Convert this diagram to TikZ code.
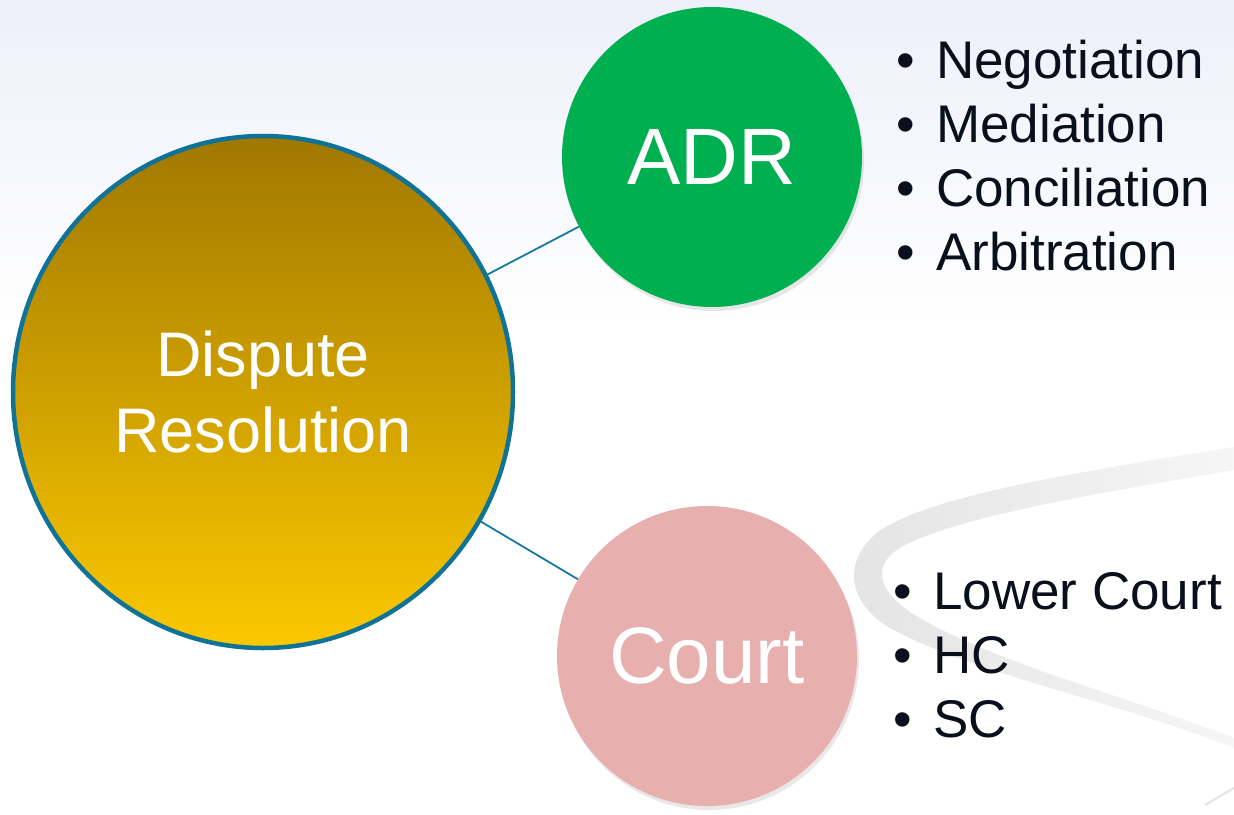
\documentclass[tikz,border=0pt]{standalone}
\usepackage{fontspec}
\setmainfont{Liberation Sans}
\usetikzlibrary{shapes.geometric,shadows}
\definecolor{bgtop}{HTML}{EEF0FA}
\definecolor{goldtop}{HTML}{A07800}
\definecolor{goldbot}{HTML}{FCC800}
\definecolor{rimteal}{HTML}{0E7396}
\definecolor{linkteal}{HTML}{1679A0}
\definecolor{adrgreen}{HTML}{00B050}
\definecolor{courtpink}{HTML}{E8AFAF}
\definecolor{listink}{HTML}{0A0F1C}
\definecolor{swooshgrey}{HTML}{E4E4E4}
\tikzset{
  hub/.style={ellipse, inner sep=0pt, minimum width=500pt, minimum height=512pt,
    draw=rimteal, line width=4.5pt, top color=goldtop, bottom color=goldbot,
    text=white, align=center, font=\fontsize{63}{76}\selectfont},
  branch/.style={ellipse, inner sep=0pt, minimum width=300pt, minimum height=300pt,
    text=white, font=\fontsize{80}{90}\selectfont,
    drop shadow={opacity=0.18, shadow xshift=2pt, shadow yshift=-4pt}},
  link/.style={draw=linkteal, line width=1.8pt},
  item/.style={anchor=base west, inner sep=0pt, text=listink,
    font=\fontsize{53}{64}\selectfont}
}
\newcommand{\bulletitem}[1]{\makebox[40pt][l]{•}#1}
\begin{document}
\begin{tikzpicture}[x=1pt,y=-1pt]
\useasboundingbox (0,0) rectangle (1234,814);
% background
\fill[white] (0,0) rectangle (1234,814);
\shade[top color=bgtop, bottom color=white] (0,0) rectangle (1234,330);
% decorative swoosh
\shade[left color=swooshgrey, right color=swooshgrey!35]
  (1234,447) .. controls (1080,472) and (930,495) .. (878,532)
  .. controls (845,558) and (845,598) .. (885,625)
  .. controls (965,672) and (1120,702) .. (1234,748)
  -- (1234,738)
  .. controls (1120,694) and (985,660) .. (910,612)
  .. controls (875,588) and (872,562) .. (905,545)
  .. controls (965,515) and (1100,493) .. (1234,470) -- cycle;
\coordinate (s1) at (1205,805);
\coordinate (s2) at (1234,788);
\draw[swooshgrey, line width=2pt] (s1) -- (s2);
% nodes
\node[hub] (dr) at (263,392) {Dispute\\Resolution};
\node[branch, fill=adrgreen] (adr) at (712,157) {ADR};
\node[branch, fill=courtpink] (court) at (707,656) {Court};
% connectors
\draw[link] (dr) -- (adr);
\draw[link] (dr) -- (court);
% lists
\node[item] (n1) at (896,78) {\bulletitem{Negotiation}};
\node[item] (n2) at (896,142) {\bulletitem{Mediation}};
\node[item] (n3) at (896,206) {\bulletitem{Conciliation}};
\node[item] (n4) at (896,270) {\bulletitem{Arbitration}};
\node[item] (c1) at (893,609) {\bulletitem{Lower Court}};
\node[item] (c2) at (893,673) {\bulletitem{HC}};
\node[item] (c3) at (893,737) {\bulletitem{SC}};
\end{tikzpicture}
\end{document}
